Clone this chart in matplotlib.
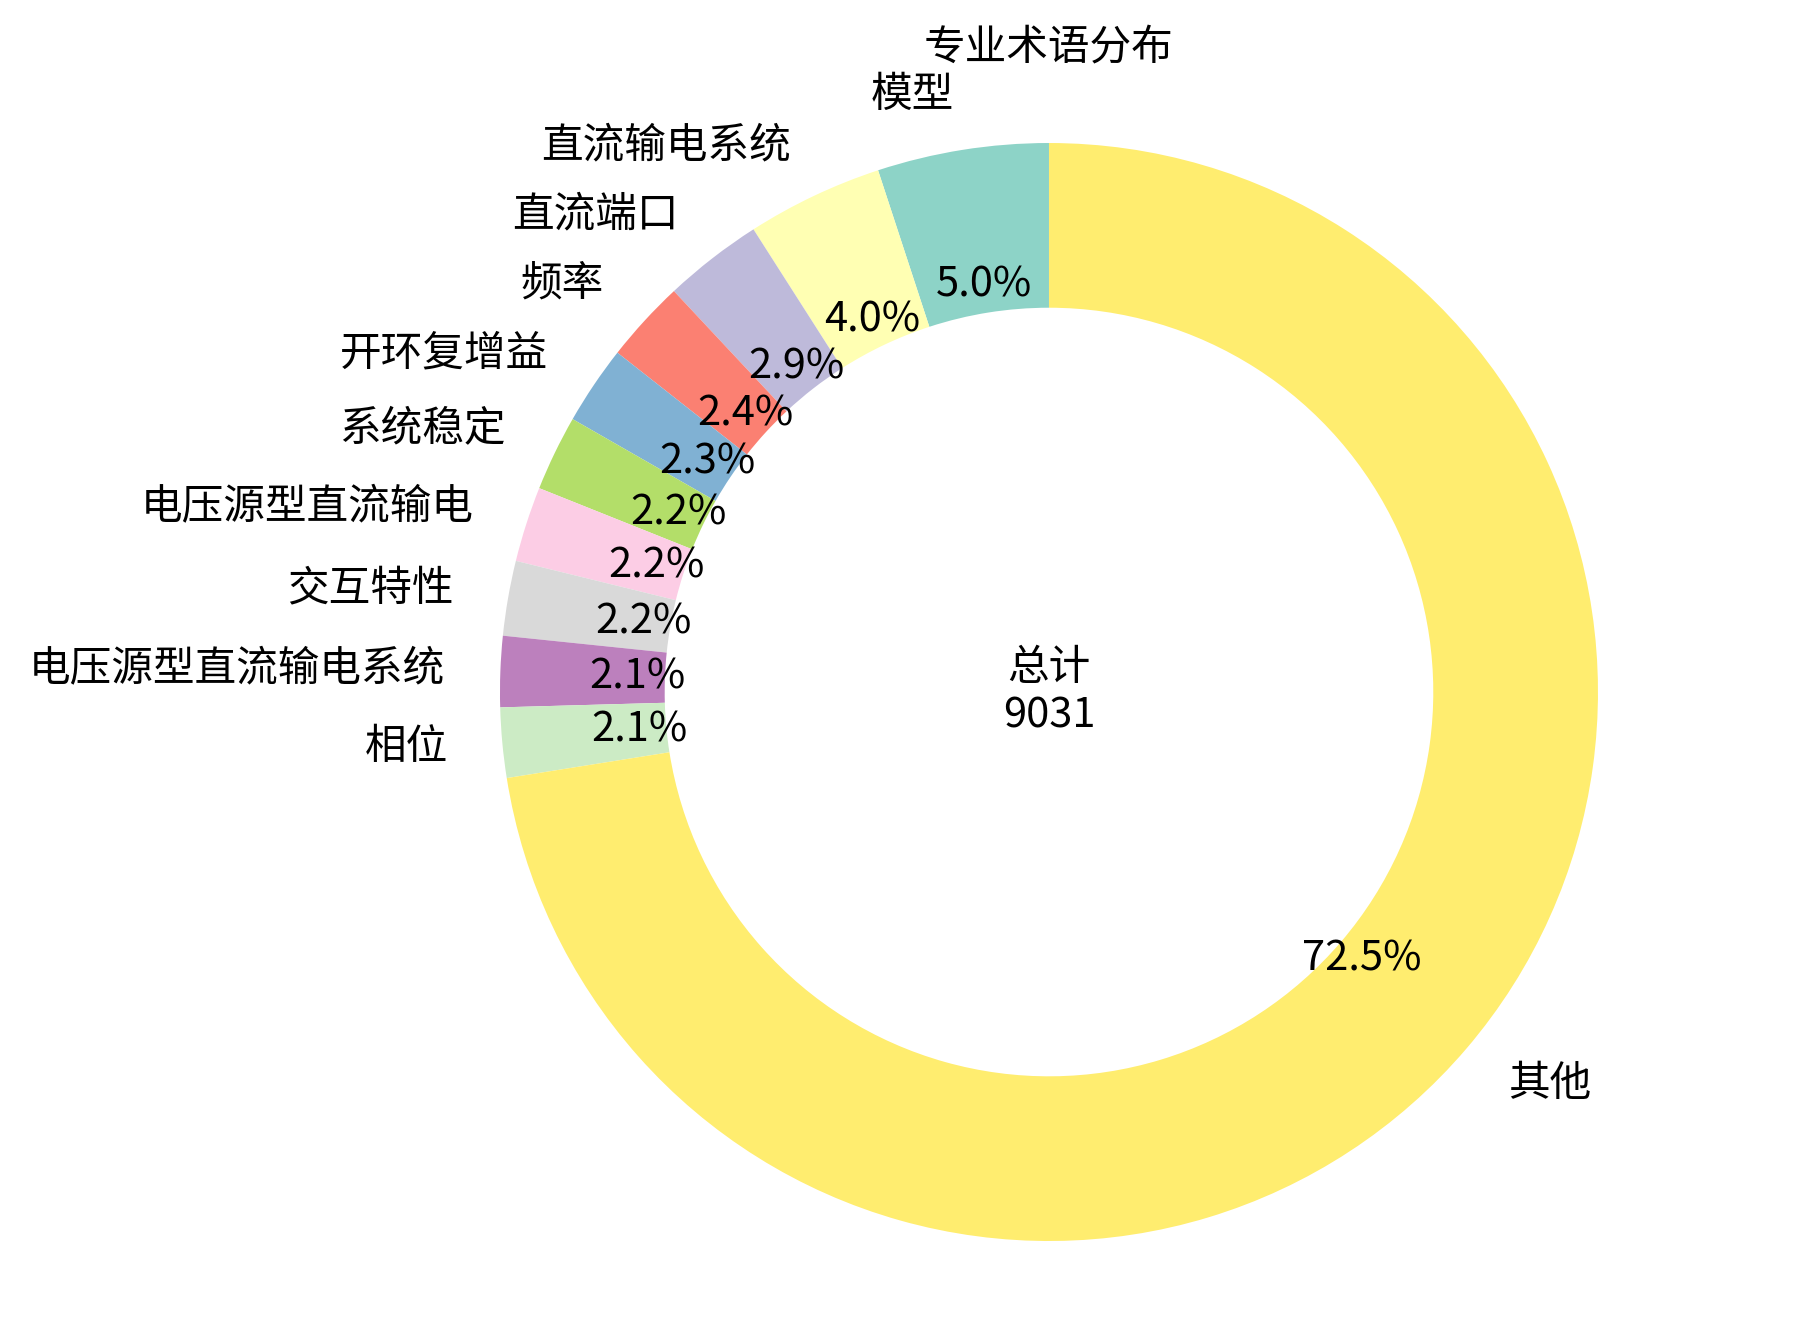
import matplotlib
matplotlib.use("Agg")
import matplotlib.pyplot as plt
import numpy as np

plt.rcParams['font.family'] = ['Noto Sans CJK SC', 'DejaVu Sans']

# term counts (total 9031)
labels = ["模型", "直流输电系统", "直流端口", "频率", "开环复增益", "系统稳定",
          "电压源型直流输电", "交互特性", "电压源型直流输电系统", "相位", "其他"]
counts = [455, 362, 264, 219, 210, 201, 200, 199, 188, 186, 6547]
total = 9031
title = "专业术语分布"

colors = plt.cm.Set3(np.linspace(0, 1, len(labels)))

fig = plt.figure(figsize=(9.1, 6.63), dpi=200)
ax = fig.add_axes([0, 0, 1, 1])

wedges, texts, autotexts = ax.pie(
    counts, labels=labels, colors=colors, startangle=90, counterclock=True,
    autopct='%1.1f%%', pctdistance=0.75, labeldistance=1.1,
    wedgeprops=dict(width=0.3),
    textprops=dict(fontsize=15))

ax.text(0, 0, "总计\n%d" % total, ha='center', va='center', fontsize=15)
ax.text(0, 1.173, title, ha='center', va='center', fontsize=15)

# place the pie as in the reference: center ~(1049, 692) px, radius ~549 px
ax.set_xlim(-1.9107, 1.4044)
ax.set_ylim(-1.1548, 1.2605)
ax.set_aspect('auto')
ax.axis('off')

fig.savefig("out.png", dpi=200)
